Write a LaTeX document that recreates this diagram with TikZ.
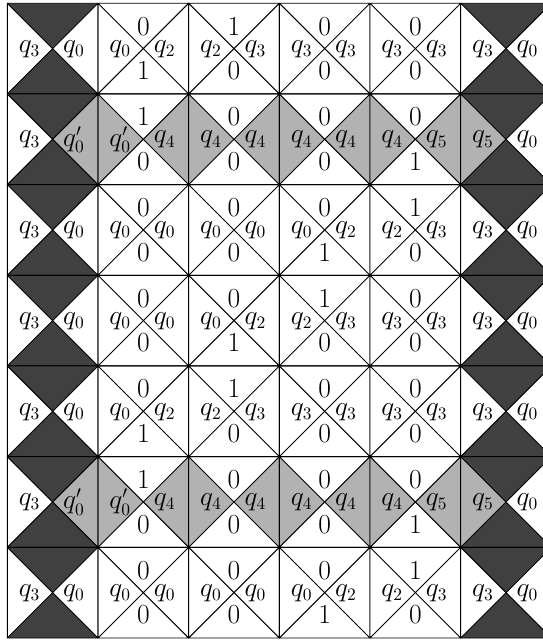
\documentclass[tikz,border=0pt]{standalone}
\definecolor{darkt}{gray}{0.25}
\definecolor{lightt}{gray}{0.70}
\begin{document}
\begin{tikzpicture}[x=2cm,y=2cm,
  lab/.style={font=\fontsize{16}{19}\selectfont, inner sep=0pt},
  tileline/.style={draw=black, line width=0.6pt}]
\useasboundingbox (-0.0805,-0.022) rectangle (5.906,7.036);
\clip (-0.0805,-0.022) rectangle (5.906,7.036);
% interior tiles: col/row/top/left/right/bottom/side fill
\foreach \c/\r/\t/\l/\rr/\b/\f in {
  1/0/0/q_0/q_2/1/white, 2/0/1/q_2/q_3/0/white, 3/0/0/q_3/q_3/0/white, 4/0/0/q_3/q_3/0/white,
  1/1/1/q_0'/q_4/0/lightt, 2/1/0/q_4/q_4/0/lightt, 3/1/0/q_4/q_4/0/lightt, 4/1/0/q_4/q_5/1/lightt,
  1/2/0/q_0/q_0/0/white, 2/2/0/q_0/q_0/0/white, 3/2/0/q_0/q_2/1/white, 4/2/1/q_2/q_3/0/white,
  1/3/0/q_0/q_0/0/white, 2/3/0/q_0/q_2/1/white, 3/3/1/q_2/q_3/0/white, 4/3/0/q_3/q_3/0/white,
  1/4/0/q_0/q_2/1/white, 2/4/1/q_2/q_3/0/white, 3/4/0/q_3/q_3/0/white, 4/4/0/q_3/q_3/0/white,
  1/5/1/q_0'/q_4/0/lightt, 2/5/0/q_4/q_4/0/lightt, 3/5/0/q_4/q_4/0/lightt, 4/5/0/q_4/q_5/1/lightt,
  1/6/0/q_0/q_0/0/white, 2/6/0/q_0/q_0/0/white, 3/6/0/q_0/q_2/1/white, 4/6/1/q_2/q_3/0/white}{
  \begin{scope}[shift={(\c,6-\r)}]
    \fill[\f] (0,0) -- (0.5,0.5) -- (0,1) -- cycle;
    \fill[\f] (1,0) -- (0.5,0.5) -- (1,1) -- cycle;
    \draw[tileline] (0,0) rectangle (1,1) (0,0) -- (1,1) (0,1) -- (1,0);
    \node[lab] (t\c-\r) at (0.5,0.745) {$\t$};
    \node[lab] (b\c-\r) at (0.5,0.255) {$\b$};
    \node[lab] (l\c-\r) at (0.245,0.495) {$\l$};
    \node[lab] (r\c-\r) at (0.735,0.495) {$\rr$};
  \end{scope}
}
% boundary tiles: col/row/left/right/left fill/right fill
\foreach \c/\r/\l/\rr/\fl/\fr in {
  0/0/q_3/q_0/white/white, 0/1/q_3/q_0'/white/lightt, 0/2/q_3/q_0/white/white,
  0/3/q_3/q_0/white/white, 0/4/q_3/q_0/white/white, 0/5/q_3/q_0'/white/lightt,
  0/6/q_3/q_0/white/white,
  5/0/q_3/q_0/white/white, 5/1/q_5/q_0/lightt/white, 5/2/q_3/q_0/white/white,
  5/3/q_3/q_0/white/white, 5/4/q_3/q_0/white/white, 5/5/q_5/q_0/lightt/white,
  5/6/q_3/q_0/white/white}{
  \begin{scope}[shift={(\c,6-\r)}]
    \fill[darkt] (0,1) -- (0.5,0.5) -- (1,1) -- cycle;
    \fill[darkt] (0,0) -- (0.5,0.5) -- (1,0) -- cycle;
    \fill[\fl] (0,0) -- (0.5,0.5) -- (0,1) -- cycle;
    \fill[\fr] (1,0) -- (0.5,0.5) -- (1,1) -- cycle;
    \draw[tileline] (0,0) rectangle (1,1) (0,0) -- (1,1) (0,1) -- (1,0);
    \node[lab] (l\c-\r) at (0.245,0.495) {$\l$};
    \node[lab] (r\c-\r) at (0.735,0.495) {$\rr$};
  \end{scope}
}
\end{tikzpicture}
\end{document}
